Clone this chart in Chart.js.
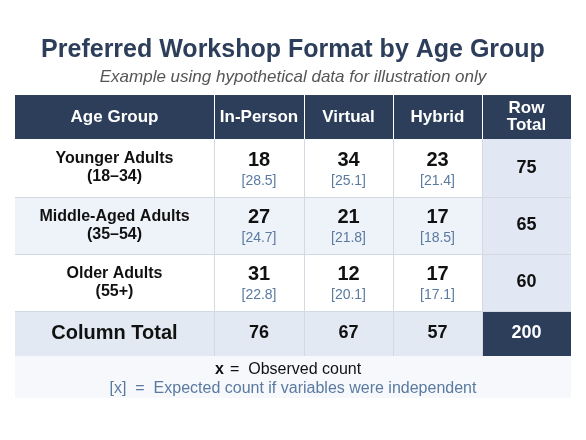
<!DOCTYPE html>
<html><head><meta charset="utf-8">
<script src="https://cdn.jsdelivr.net/npm/chart.js@4"></script>
<style>html,body{margin:0;padding:0;background:#fff}#c{display:block}</style>
</head><body>
<canvas id="c" width="586" height="440"></canvas>
<script>
const title = "Preferred Workshop Format by Age Group";
const subtitle = "Example using hypothetical data for illustration only";
const headers = ["Age Group","In-Person","Virtual","Hybrid","Row\nTotal"];
const categories = ["Younger Adults\n(18–34)","Middle-Aged Adults\n(35–54)","Older Adults\n(55+)"];
const observed = [[18,34,23],[27,21,17],[31,12,17]];
const expected = [[28.5,25.1,21.4],[24.7,21.8,18.5],[22.8,20.1,17.1]];
const rowTotals = [75,65,60];
const colTotals = [76,67,57];
const grandTotal = 200;
const colEdges = [15,214,304,393,482,571];
const rowEdges = [95,139,197,254,311,356,398];
const NAVY = "#2c3e5a";
const FONT = "Liberation Sans, Arial, sans-serif";

const tablePlugin = {
  id:'table',
  afterDraw(chart){
    const ctx = chart.ctx, xs = chart.scales.x, ys = chart.scales.y;
    const X = v=>xs.getPixelForValue(v), Y = v=>ys.getPixelForValue(v);
    const cell=(c0,c1,r0,r1,fill)=>{ctx.fillStyle=fill;ctx.fillRect(X(c0),Y(r0),X(c1)-X(c0),Y(r1)-Y(r0));};
    const txt=(s,x,y,font,color)=>{ctx.font=font;ctx.fillStyle=color;ctx.textAlign='center';ctx.textBaseline='middle';ctx.fillText(s,x,y);};
    ctx.save();
    txt(title,X(293),Y(50),"bold 25px "+FONT,NAVY);
    txt(subtitle,X(293),Y(77),"italic 17px "+FONT,"#555");
    // header
    cell(colEdges[0],colEdges[5],rowEdges[0],rowEdges[1],NAVY);
    headers.forEach((h,i)=>{
      const cx=(X(colEdges[i])+X(colEdges[i+1]))/2, cy=(Y(rowEdges[0])+Y(rowEdges[1]))/2;
      const lines=h.split("\n");
      lines.forEach((l,k)=>txt(l,cx,cy+(k-(lines.length-1)/2)*17,"bold 17px "+FONT,"#fff"));
    });
    // body rows
    categories.forEach((cat,r)=>{
      const r0=rowEdges[r+1], r1=rowEdges[r+2];
      cell(colEdges[0],colEdges[4],r0,r1,r%2===1?"#eef2f9":"#ffffff");
      cell(colEdges[4],colEdges[5],r0,r1,"#e2e8f3");
      const cy=(Y(r0)+Y(r1))/2;
      const lines=cat.split("\n");
      lines.forEach((l,k)=>txt(l,(X(colEdges[0])+X(colEdges[1]))/2,cy+(k-0.5)*18,"bold 16px "+FONT,"#111"));
      for(let c=0;c<3;c++){
        const cx=(X(colEdges[c+1])+X(colEdges[c+2]))/2;
        txt(String(observed[r][c]),cx,cy-8,"bold 20px "+FONT,"#111");
        txt("["+expected[r][c].toFixed(1)+"]",cx,cy+13,"14px "+FONT,"#5a7aa0");
      }
      txt(String(rowTotals[r]),(X(colEdges[4])+X(colEdges[5]))/2,cy,"bold 18px "+FONT,"#111");
    });
    // total row
    const t0=rowEdges[4], t1=rowEdges[5], ty=(Y(t0)+Y(t1))/2;
    cell(colEdges[0],colEdges[4],t0,t1,"#e3e9f3");
    cell(colEdges[4],colEdges[5],t0,t1,NAVY);
    txt("Column Total",(X(colEdges[0])+X(colEdges[1]))/2,ty,"bold 20px "+FONT,"#111");
    colTotals.forEach((v,c)=>txt(String(v),(X(colEdges[c+1])+X(colEdges[c+2]))/2,ty,"bold 18px "+FONT,"#111"));
    txt(String(grandTotal),(X(colEdges[4])+X(colEdges[5]))/2,ty,"bold 18px "+FONT,"#fff");
    // grid lines
    ctx.strokeStyle="#d3d9e3";ctx.lineWidth=1;
    for(let r=2;r<=4;r++){ctx.beginPath();ctx.moveTo(X(colEdges[0]),Y(rowEdges[r])+0.5);ctx.lineTo(X(colEdges[5]),Y(rowEdges[r])+0.5);ctx.stroke();}
    for(let c=1;c<=4;c++){ctx.beginPath();ctx.moveTo(X(colEdges[c])+0.5,Y(rowEdges[1]));ctx.lineTo(X(colEdges[c])+0.5,Y(rowEdges[5]));ctx.stroke();}
    ctx.strokeStyle="#fff";
    for(let c=1;c<=4;c++){ctx.beginPath();ctx.moveTo(X(colEdges[c])+0.5,Y(rowEdges[0]));ctx.lineTo(X(colEdges[c])+0.5,Y(rowEdges[1]));ctx.stroke();}
    // legend
    cell(colEdges[0],colEdges[5],rowEdges[5],rowEdges[6],"#f6f8fc");
    ctx.font="bold 16px "+FONT;ctx.fillStyle="#111";ctx.textAlign='right';ctx.textBaseline='middle';
    ctx.fillText("x",X(224),Y(370));
    ctx.font="16px "+FONT;ctx.textAlign='left';ctx.fillText("=  Observed count",X(230),Y(370));
    txt("[x]  =  Expected count if variables were independent",X(293),Y(389),"16px "+FONT,"#5a7aa0");
    ctx.restore();
  }
};

new Chart(document.getElementById('c'),{
  type:'scatter',
  data:{datasets:[{data:[]}]},
  options:{responsive:false,animation:false,
    layout:{padding:0},
    plugins:{legend:{display:false},tooltip:{enabled:false}},
    scales:{x:{type:'linear',min:0,max:586,display:false},
            y:{type:'linear',min:0,max:440,reverse:true,display:false}}},
  plugins:[tablePlugin]
});
</script>
</body></html>
